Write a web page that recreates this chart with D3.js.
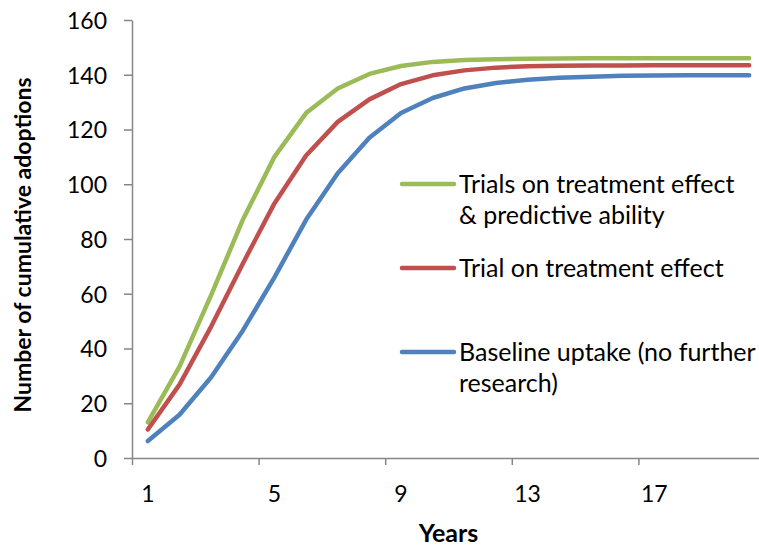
<!DOCTYPE html>
<html>
<head>
<meta charset="utf-8">
<script src="https://cdn.jsdelivr.net/npm/d3@7"></script>
<style>
  body { margin: 0; background: #fff; }
  text { font-family: Lato, "Open Sans", sans-serif; fill: #000; }
</style>
</head>
<body>
<div class="canvas"></div>
<script>
// data
const years = d3.range(1, 21);
const yearLabels = [1, 5, 9, 13, 17];
const yTicks = [0, 20, 40, 60, 80, 100, 120, 140, 160];

const trialsBoth = [13, 33.4, 59.5, 87, 110, 126, 135, 140.3, 143.2, 144.7,
  145.4, 145.7, 145.8, 145.9, 146, 146, 146, 146, 146, 146];
const trialEffect = [10.4, 26.8, 48, 71, 93, 110.5, 122.8, 131, 136.6, 139.8,
  141.6, 142.6, 143.1, 143.3, 143.4, 143.4, 143.5, 143.5, 143.5, 143.5];
const baseline = [6.2, 15.8, 29.5, 46.5, 66, 87, 104, 117, 126, 131.5,
  135, 137, 138.2, 138.9, 139.3, 139.6, 139.7, 139.8, 139.8, 139.8];

const seriesNames = [
  ['Trials on treatment effect', '& predictive ability'],
  ['Trial on treatment effect'],
  ['Baseline uptake (no further', 'research)']
];
const seriesValues = [trialsBoth, trialEffect, baseline];
const seriesColors = ['#9BBB59', '#C0504D', '#4F81BD'];

const width = 759, height = 549;
const margin = { top: 20, right: -6, bottom: 91, left: 132 };
const graphWidth = width - margin.left - margin.right;
const graphHeight = height - margin.top - margin.bottom;

const svg = d3.select('.canvas')
  .append('svg')
    .attr('width', width)
    .attr('height', height);

const graph = svg.append('g')
  .attr('transform', `translate(${margin.left}, ${margin.top})`);

const x = d3.scaleBand()
  .domain(years)
  .range([0, graphWidth]);

// boundaries between categories, for the tick marks
const xEdge = d3.scaleLinear()
  .domain([0, years.length])
  .range([0, graphWidth]);

const y = d3.scaleLinear()
  .domain([0, 160])
  .range([graphHeight, 0]);

const axisColor = '#868686';

// y axis
const yAxisGroup = graph.append('g')
  .call(d3.axisLeft(y).tickValues(yTicks).tickSize(8).tickSizeOuter(0).tickPadding(17));
yAxisGroup.selectAll('line, path').attr('stroke', axisColor).attr('stroke-width', 1.5);
yAxisGroup.selectAll('text')
  .attr('font-size', '23px')
  .attr('dy', '0.36em');

// x axis marks
const xMarks = graph.append('g')
  .attr('transform', `translate(0, ${graphHeight})`)
  .call(d3.axisBottom(xEdge).tickValues([0, 4, 8, 12, 16, 20]).tickFormat('').tickSize(7).tickSizeOuter(0));
xMarks.selectAll('line, path').attr('stroke', axisColor).attr('stroke-width', 1.5);

// x axis labels
const xLabels = graph.append('g')
  .attr('transform', `translate(0, ${graphHeight})`)
  .call(d3.axisBottom(x).tickValues(yearLabels).tickSize(0).tickPadding(28));
xLabels.select('.domain').remove();
xLabels.selectAll('text')
  .attr('font-size', '23px')
  .attr('dy', '0.71em');

// axis titles
svg.append('text')
  .attr('x', margin.left + graphWidth / 2)
  .attr('y', 542)
  .attr('text-anchor', 'middle')
  .attr('font-size', '25px')
  .attr('font-weight', 'bold')
  .text('Years');

svg.append('text')
  .attr('transform', 'translate(31, 245) rotate(-90)')
  .attr('text-anchor', 'middle')
  .attr('font-size', '23px')
  .attr('font-weight', 'bold')
  .text('Number of cumulative adoptions');

// lines
const line = d3.line()
  .x((d, i) => x(years[i]) + x.bandwidth() / 2)
  .y(d => y(d));

graph.selectAll('path.series')
  .data(seriesValues)
  .enter()
  .append('path')
    .attr('class', 'series')
    .attr('fill', 'none')
    .attr('stroke', (d, i) => seriesColors[i])
    .attr('stroke-width', 4.5)
    .attr('stroke-linejoin', 'round')
    .attr('stroke-linecap', 'round')
    .attr('d', line);

// legend
const legendY = [184, 268, 352];
const legend = svg.append('g');
seriesNames.forEach((name, i) => {
  const item = legend.append('g')
    .attr('transform', `translate(400, ${legendY[i]})`);
  item.append('line')
    .attr('x1', 2).attr('x2', 54)
    .attr('stroke', seriesColors[i])
    .attr('stroke-width', 4.5)
    .attr('stroke-linecap', 'round');
  item.append('text')
    .attr('x', 59)
    .attr('font-size', '25px')
    .selectAll('tspan')
    .data(name)
    .enter()
    .append('tspan')
      .attr('x', 59)
      .attr('y', (d, j) => 8.5 + j * 31)
      .text(d => d);
});
</script>
</body>
</html>
